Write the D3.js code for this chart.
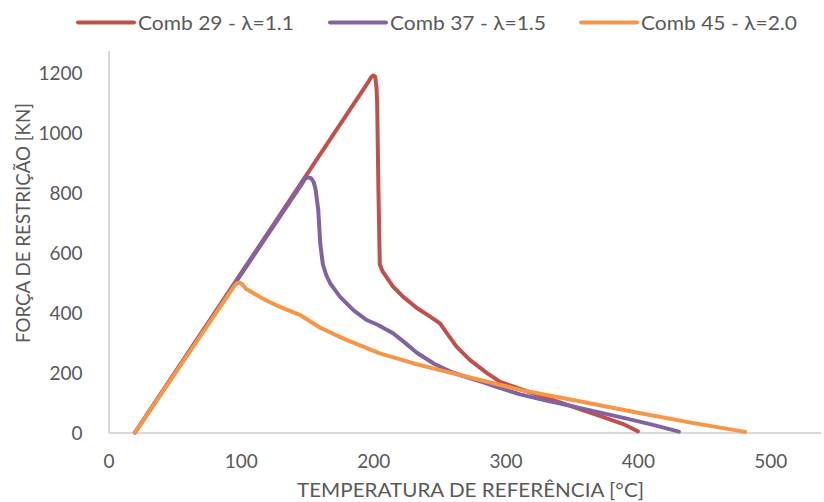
<!doctype html>
<html>
<head>
    <meta charset="utf-8">
    <title>Força de restrição</title>
    <script src="https://cdn.jsdelivr.net/npm/d3@7"></script>
    <style>
        body {
            margin: 0;
            background: #fff;
        }

        text {
            font-family: Lato, "Open Sans", sans-serif;
            fill: #595959;
        }

        .axis path {
            stroke: #d9d9d9;
            stroke-width: 1.5;
            shape-rendering: crispEdges;
        }

        .axis text {
            font-size: 19px;
            fill: #595959;
            font-family: Lato, sans-serif;
        }
    </style>
</head>

<body>
    <script>
        "use strict";

        // [temperatura °C, força kN]
        const comb29 = [
            [20, 0], [196, 1166], [198.5, 1185], [200, 1190], [201.5, 1186], [202.5, 1150],
            [203, 1100], [204, 800], [205, 560], [207, 538], [215, 486], [222.5, 453],
            [233, 415], [243, 386], [250.5, 364], [255.5, 332], [263, 286], [273, 242],
            [286, 198], [296, 169], [311, 145], [330, 117], [350, 87], [370, 57],
            [390, 26], [400, 4]
        ];
        const comb37 = [
            [20, 0], [146, 828], [148.5, 845], [150.5, 851], [153, 848], [155, 835],
            [156.5, 810], [158.5, 741], [160, 630], [162, 560], [164.5, 525], [167.5, 497],
            [175, 452], [185, 408], [195, 375], [203, 360], [215, 331], [223, 303],
            [233, 266], [246, 229], [260, 200], [271, 184], [285, 165], [296, 148],
            [311, 127], [330, 107], [350, 88], [370, 68], [390, 48], [410, 27], [431, 3]
        ];
        const comb45 = [
            [20, 0], [95, 488], [97, 497], [99, 499], [101, 494], [104, 478],
            [109, 466], [115, 450], [122, 434], [130, 418], [145, 391], [160, 349],
            [178, 312], [205, 264], [230, 231], [255, 203], [281, 175], [311, 142],
            [350, 109], [400, 66], [440, 33], [481, 2]
        ];

        const seriesNames = ["Comb 29 - λ=1.1", "Comb 37 - λ=1.5", "Comb 45 - λ=2.0"];
        const seriesColors = ["#c0504d", "#8064a2", "#f79646"];
        const xTicks = [0, 100, 200, 300, 400, 500];
        const yTicks = [0, 200, 400, 600, 800, 1000, 1200];

        const width = 824;
        const height = 502;

        const x = d3.scaleLinear()
            .domain([0, 538])
            .range([108.5, 820.5]);

        const y = d3.scaleLinear()
            .domain([0, 1275])
            .range([432.5, 50]);

        const svg = d3.select("body").append("svg")
            .attr("width", width)
            .attr("height", height);

        svg.append("g")
            .attr("class", "axis")
            .attr("transform", `translate(0,${y(0)})`)
            .call(d3.axisBottom(x).tickValues(xTicks).tickFormat(d3.format("d"))
                .tickSize(0).tickPadding(22))
            .call(g => g.selectAll(".tick line").remove());

        svg.append("g")
            .attr("class", "axis")
            .attr("transform", `translate(${x(0)},0)`)
            .call(d3.axisLeft(y).tickValues(yTicks).tickFormat(d3.format("d"))
                .tickSize(0).tickPadding(26))
            .call(g => g.selectAll(".tick line").remove())
            .call(g => g.selectAll(".tick text").attr("dy", "0.36em"));

        // axis titles
        svg.append("text")
            .attr("x", 470.5)
            .attr("y", 497)
            .attr("text-anchor", "middle")
            .attr("font-size", 19)
            .attr("textLength", 347)
            .attr("lengthAdjust", "spacingAndGlyphs")
            .text("TEMPERATURA DE REFERÊNCIA [°C]");

        svg.append("text")
            .attr("transform", "translate(30,223) rotate(-90)")
            .attr("text-anchor", "middle")
            .attr("font-size", 19)
            .attr("textLength", 240)
            .attr("lengthAdjust", "spacingAndGlyphs")
            .text("FORÇA DE RESTRIÇÃO [KN]");

        const line = d3.line()
            .x(d => x(d[0]))
            .y(d => y(d[1]));

        [comb29, comb37, comb45].forEach((s, i) => {
            svg.append("path")
                .datum(s)
                .attr("fill", "none")
                .attr("stroke", seriesColors[i])
                .attr("stroke-width", 4)
                .attr("stroke-linejoin", "round")
                .attr("stroke-linecap", "round")
                .attr("d", line);
        });

        // legend
        const legendX = [78, 330, 581];
        const legend = svg.append("g");
        seriesNames.forEach((name, i) => {
            legend.append("line")
                .attr("x1", legendX[i])
                .attr("x2", legendX[i] + 56)
                .attr("y1", 22.5)
                .attr("y2", 22.5)
                .attr("stroke", seriesColors[i])
                .attr("stroke-width", 4)
                .attr("stroke-linecap", "round");
            legend.append("text")
                .attr("x", legendX[i] + 60)
                .attr("y", 22.5)
                .attr("dy", "0.36em")
                .attr("font-size", 20)
                .attr("textLength", 156)
                .attr("lengthAdjust", "spacingAndGlyphs")
                .text(name);
        });
    </script>
</body>
</html>
